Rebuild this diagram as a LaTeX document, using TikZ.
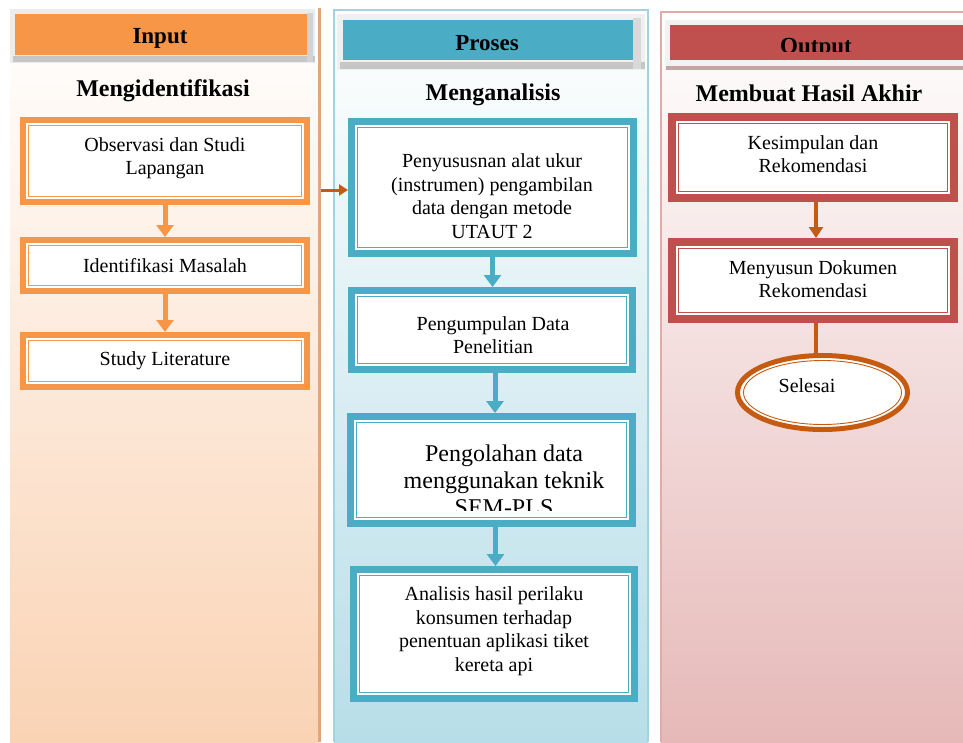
\documentclass[tikz,border=0pt]{standalone}
\usepackage{fontspec}
\setmainfont{Liberation Serif}
\usetikzlibrary{arrows.meta,fit,shapes.geometric}
\definecolor{inor}{HTML}{F79646}
\definecolor{inbg}{HTML}{FAD3B4}
\definecolor{inedge}{HTML}{E2A57C}
\definecolor{prt}{HTML}{4BACC6}
\definecolor{prbg}{HTML}{B7DEE8}
\definecolor{predge}{HTML}{A3D3E0}
\definecolor{outr}{HTML}{C0504D}
\definecolor{outbg}{HTML}{E6B9B8}
\definecolor{outedge}{HTML}{E4AAA9}
\definecolor{dor}{HTML}{C55A11}
\newcommand\mybox[7]{%
  \node[draw=#2, line width=#7pt, fill=white, inner sep=0pt,
        fit={({#3+#7/2},{#4+#7/2}) ({#5-#7/2},{#6-#7/2})}] (#1) {};
  \draw[#2, line width=0.9pt] ({#3+#7+2.5},{#4+#7+2.5}) rectangle ({#5-#7-2.5},{#6-#7-2.5});
}
\begin{document}
\begin{tikzpicture}[x=1pt,y=-1pt,
 txt/.style={align=center, inner sep=0pt, font=\fontsize{20}{23.5}\selectfont},
 bigtxt/.style={align=center, inner sep=0pt, font=\fontsize{24}{27}\selectfont},
 hd/.style={inner sep=0pt, anchor=base, font=\bfseries\fontsize{24}{28}\selectfont},
 hdrt/.style={inner sep=0pt, anchor=base, font=\bfseries\fontsize{23}{27}\selectfont},
 inarr/.style={draw=inor, line width=5pt, -{Triangle[width=17pt,length=12pt]}},
 prarr/.style={draw=prt, line width=5pt, -{Triangle[width=17pt,length=12pt]}},
 outarr/.style={draw=dor, line width=4pt, -{Triangle[width=14pt,length=11pt]}},
]
\useasboundingbox (0,0) rectangle (963,742);
\fill[white] (0,0) rectangle (963,742);

% ---------- Input panel ----------
\shade[top color=white, bottom color=inbg] (10,8) rectangle (319,742);
\fill[inedge] (318,8) rectangle (321,742);
\fill[gray!15] (10,9) rectangle (315,63);
\fill[gray!45] (13,56) rectangle (315,62);
\fill[gray!35] (307,13) rectangle (313,62);
\node[fill=inor, inner sep=0pt, fit={(15,14) (307,55)}] (inhead) {};
\node[hdrt] (intitle) at (160,43) {Input};
\node[hd] (insub) at (163,96.5) {Mengidentifikasi};

\mybox{ib1}{inor}{20}{117}{310}{205}{6}
\mybox{ib2}{inor}{20}{237}{310}{294}{6}
\mybox{ib3}{inor}{20}{332}{310}{390}{6}
\node[txt] (it1) at (165,158) {Observasi dan Studi\\Lapangan};
\node[txt] (it2) at (165,266) {Identifikasi Masalah};
\node[txt] (it3) at (165,361) {Study Literature};
\draw[inarr] (ib1.south) -- (ib1.south |- ib2.north);
\draw[inarr] (ib2.south) -- (ib2.south |- ib3.north);

% ---------- Proses panel ----------
\shade[top color=white, bottom color=prbg] (334,10) rectangle (648,742);
\draw[predge, line width=1.5pt] (334,742) -- (334,10) -- (648,10) -- (648,742);
\fill[gray!12] (337,14) rectangle (645,70);
\fill[gray!45] (340,62) rectangle (645,69);
\fill[gray!30] (633,18) rectangle (641,69);
\node[fill=prt, inner sep=0pt, fit={(343,20) (633,60)}] (prhead) {};
\node[hdrt] (prtitle) at (487,50) {Proses};
\node[hd] (prsub) at (493,100) {Menganalisis};

\mybox{pb1}{prt}{348}{118}{637}{257}{7}
\mybox{pb2}{prt}{348}{287}{636}{373}{7}
\mybox{pb3}{prt}{347}{413}{636}{527}{7}
\mybox{pb4}{prt}{350}{566}{638}{702}{7}
\node[txt] (pt1) at (492,196) {Penyususnan alat ukur\\(instrumen) pengambilan\\data dengan metode\\UTAUT 2};
\node[txt] (pt2) at (493,335) {Pengumpulan Data\\Penelitian};
\begin{scope}
\clip (357,422) rectangle (627,510);
\node[bigtxt] (pt3) at (504,480) {Pengolahan data\\menggunakan teknik\\SEM-PLS};
\end{scope}
\node[txt] (pt4) at (494,631) {Analisis hasil perilaku\\konsumen terhadap\\penentuan aplikasi tiket\\kereta api};
\draw[prarr] (pb1.south) -- (pb1.south |- pb2.north);
\draw[prarr] ([xshift=3pt]pb2.south) -- ([xshift=3pt]pb2.south |- pb3.north);
\draw[prarr] ([xshift=4pt]pb3.south) -- ([xshift=4pt]pb3.south |- pb4.north);

% inter-panel arrow
\coordinate (ia) at (321,190);
\draw[dor, line width=3pt, -{Triangle[width=11pt,length=9pt]}] (ia) -- (ia -| pb1.west);

% ---------- Output panel ----------
\shade[top color=white, bottom color=outbg] (661,12) rectangle (963,742);
\draw[outedge, line width=1.5pt] (661,742) -- (661,12) -- (963,12);
\fill[gray!10] (665,20) rectangle (963,70);
\fill[gray!55!outr!60] (666,66) rectangle (963,69.5);
\node[fill=outr, inner sep=0pt, fit={(670,25) (963,60)}] (outhead) {};
\begin{scope}
\clip (670,25) rectangle (963,51.5);
\node[hdrt] (outtitle) at (816,53.5) {Output};
\end{scope}
\node[hd] (outsub) at (809,101.5) {Membuat Hasil Akhir};

\mybox{ob1}{outr}{668}{113}{958}{202}{8}
\mybox{ob2}{outr}{668}{238}{958}{323}{8}
\node[txt] (ot1) at (813,154) {Kesimpulan dan\\Rekomendasi};
\node[txt] (ot2) at (813,279) {Menyusun Dokumen\\Rekomendasi};
\draw[outarr] ([xshift=3pt]ob1.south) -- ([xshift=3pt]ob1.south |- ob2.north);

\node[ellipse, draw=dor, line width=5pt, fill=white, minimum width=170pt, minimum height=74pt, inner sep=0pt] (sel) at (822.5,392.5) {};
\draw[dor, line width=0.9pt] (sel.center) ellipse [x radius=79, y radius=32];
\node[txt] (selt) at (807,386) {Selesai};
\draw[dor, line width=4pt] ([xshift=3pt]ob2.south) -- ([xshift=3pt]ob2.south |- sel.north);
\end{tikzpicture}
\end{document}
